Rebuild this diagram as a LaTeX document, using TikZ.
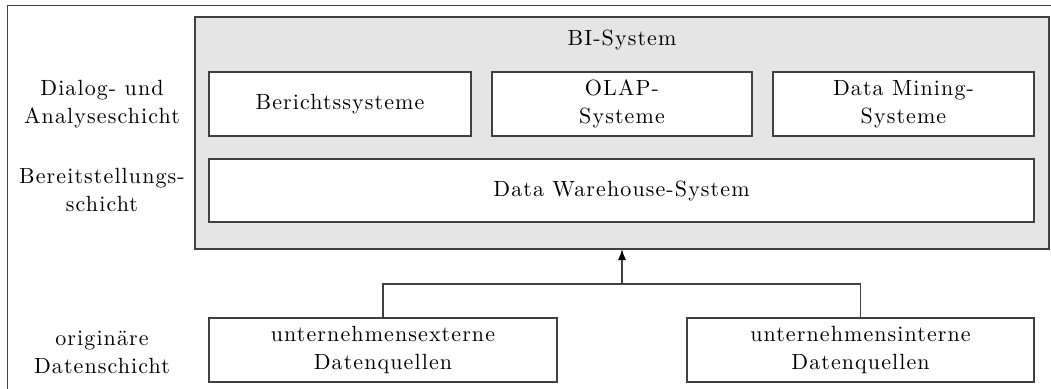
\documentclass[tikz,border=0pt]{standalone}
\usepackage{fontspec}
\setmainfont{lmroman10-regular}[Extension=.otf, LetterSpace=5]
\usetikzlibrary{arrows.meta}
\definecolor{panel}{gray}{0.9}
\definecolor{edge}{gray}{0.25}
\begin{document}
\begin{tikzpicture}[x=1pt, y=-1pt,
  every node/.style={font=\fontsize{22}{28}\selectfont, inner sep=0pt, outer sep=0pt},
  box/.style={draw=edge, line width=1.3pt, fill=white, align=center, minimum height=64pt},
  lbl/.style={align=center},
  link/.style={draw=edge, line width=1.3pt}]
  \useasboundingbox (0,0) rectangle (1051,388);
  \clip (0,0) rectangle (1051,388);
  % outer frame
  \draw[edge, line width=1.3pt] (7.5,5.5) rectangle (1080,420);

  % BI system panel
  \node[box, fill=panel, minimum width=854pt, minimum height=232pt] (bi) at (622,133) {};
  \node[anchor=base] (bititle) at (622,45) {BI-System};

  % analysis layer
  \node[box, minimum width=262pt] (ber) at (340,104) {Berichtssysteme};
  \node[box, minimum width=260pt] (olap) at (622,104) {OLAP-\\Systeme};
  \node[box, minimum width=261pt] (dm) at (903.5,104) {Data Mining-\\Systeme};

  % provisioning layer
  \node[box, minimum width=825pt, minimum height=63pt] (dw) at (621.5,190.5) {Data Warehouse-System};

  % source layer
  \node[box, minimum width=348pt] (ext) at (383,350) {unternehmensexterne\\Datenquellen};
  \node[box, minimum width=347pt] (int) at (860.5,350) {unternehmensinterne\\Datenquellen};

  % layer labels
  \node[lbl] (l1) at (102,104) {Dialog- und\\Analyseschicht};
  \node[lbl] (l2) at (102,190) {Bereitstellungs-\\schicht};
  \node[lbl] (l3) at (102,352) {originäre\\Datenschicht};

  % data flow
  \coordinate (join) at (622,284);
  \draw[link] (ext.north) |- (join);
  \draw[link] (int.north) |- (join);
  \draw[link, -{Latex[length=11pt, width=8pt, fill=black, color=black]}] (join) -- (bi.south);
\end{tikzpicture}
\end{document}
